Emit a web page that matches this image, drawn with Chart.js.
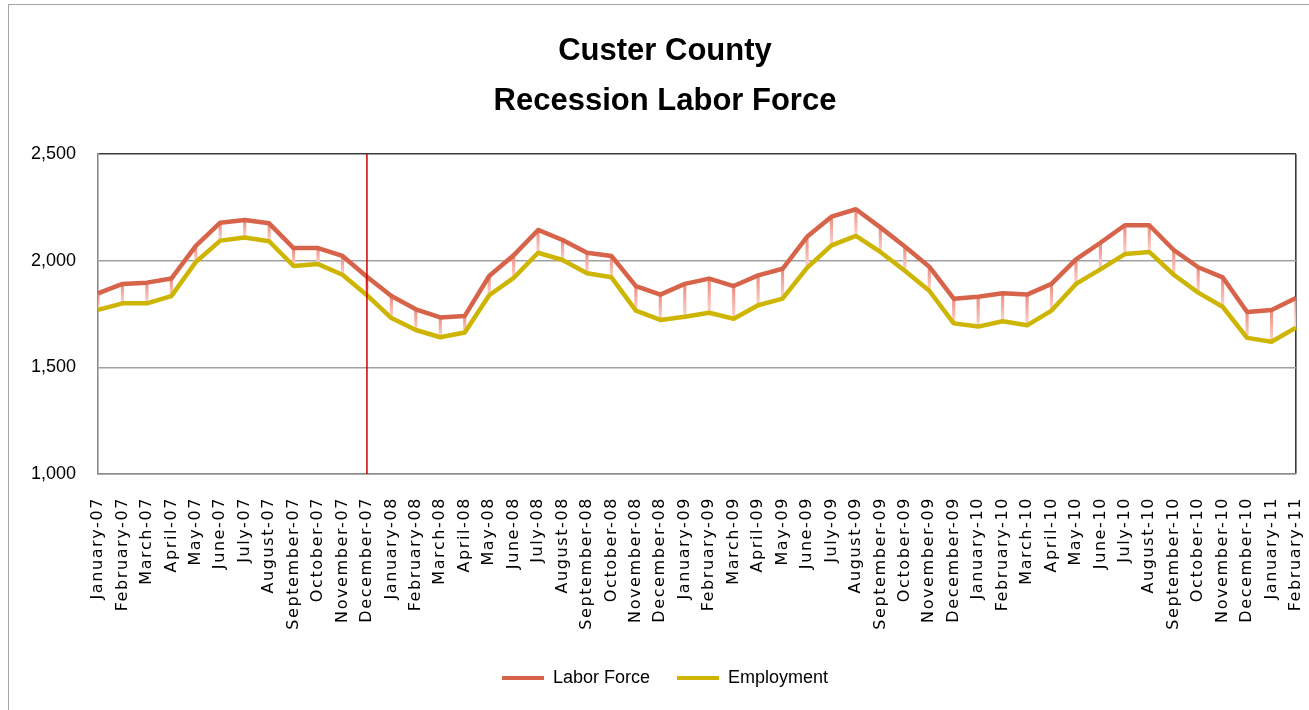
<!DOCTYPE html>
<html>
<head>
<meta charset="utf-8">
<script src="https://cdn.jsdelivr.net/npm/chart.js@4.4.1/dist/chart.umd.min.js"></script>
<style>
html,body{margin:0;padding:0;background:#fff;overflow:hidden;}
#frame{position:absolute;left:8px;top:4px;width:1400px;height:800px;border:1.5px solid #a6a6a6;}
#wrap{position:absolute;left:0;top:0;width:1309px;height:710px;}
</style>
</head>
<body>
<div id="frame"></div>
<div id="wrap"><canvas id="c" width="1309" height="710"></canvas></div>
<script>
const titleLines = ['Custer County', 'Recession Labor Force'];

const months = [
  'January-07','February-07','March-07','April-07','May-07','June-07','July-07','August-07','September-07','October-07','November-07','December-07',
  'January-08','February-08','March-08','April-08','May-08','June-08','July-08','August-08','September-08','October-08','November-08','December-08',
  'January-09','February-09','March-09','April-09','May-09','June-09','July-09','August-09','September-09','October-09','November-09','December-09',
  'January-10','February-10','March-10','April-10','May-10','June-10','July-10','August-10','September-10','October-10','November-10','December-10',
  'January-11','February-11'
];

const laborForce = [
  1847, 1891, 1897, 1916, 2069, 2178, 2191, 2175, 2059, 2059, 2022, 1925,
  1834, 1772, 1734, 1741, 1928, 2025, 2144, 2097, 2037, 2022, 1881, 1841,
  1891, 1916, 1881, 1931, 1962, 2112, 2206, 2241, 2156, 2066, 1972, 1822,
  1831, 1847, 1841, 1891, 2006, 2084, 2166, 2166, 2050, 1969, 1922, 1759,
  1769, 1825
];

const employment = [
  1769, 1800, 1800, 1834, 1994, 2094, 2109, 2091, 1975, 1984, 1934, 1838,
  1731, 1675, 1641, 1663, 1838, 1919, 2037, 2003, 1941, 1922, 1766, 1722,
  1737, 1756, 1728, 1791, 1822, 1966, 2072, 2116, 2041, 1953, 1859, 1706,
  1691, 1716, 1697, 1766, 1891, 1959, 2031, 2041, 1934, 1850, 1784, 1638,
  1620, 1686
];

const yTicks = [1000, 1500, 2000, 2500];
const recessionStart = 'December-07';

const lfColor = '#D6634A';
const empColor = '#CDB502';

const rangeData = months.map((m, i) => [employment[i], laborForce[i]]);

function hiLoGradient(context) {
  const chart = context.chart;
  const raw = context.raw;
  if (!chart.chartArea || !raw || !chart.scales.y) return '#F4B4A8';
  const ys = chart.scales.y;
  const top = ys.getPixelForValue(raw[1]);
  const bot = ys.getPixelForValue(raw[0]);
  const g = chart.ctx.createLinearGradient(0, top, 0, bot);
  g.addColorStop(0, '#EE8A7B');
  g.addColorStop(1, '#FBD6D0');
  return g;
}

const xLabelSpacing = {
  id: 'xLabelSpacing',
  afterLayout(chart) {
    // widen the y-axis label clip box so the tick labels are not cut on the left
    if (chart.scales.y) chart.scales.y.left = 0;
  },
  afterDatasetsDraw(chart) { chart.ctx.letterSpacing = '1.6px'; },
  afterDraw(chart) { chart.ctx.letterSpacing = '0px'; }
};

new Chart(document.getElementById('c'), {
  type: 'line',
  data: {
    labels: months,
    datasets: [
      {
        label: 'Recession start',
        data: [{x: recessionStart, y: yTicks[0]}, {x: recessionStart, y: yTicks[yTicks.length - 1]}],
        borderColor: '#CC0000',
        borderWidth: 1.5,
        pointRadius: 0,
        order: 0
      },
      {
        label: 'Labor Force',
        data: laborForce,
        borderColor: lfColor,
        backgroundColor: lfColor,
        borderWidth: 4.5,
        borderJoinStyle: 'round',
        pointRadius: 0,
        tension: 0,
        order: 1
      },
      {
        label: 'Employment',
        data: employment,
        borderColor: empColor,
        backgroundColor: empColor,
        borderWidth: 4.5,
        borderJoinStyle: 'round',
        pointRadius: 0,
        tension: 0,
        order: 2
      },
      {
        type: 'bar',
        label: 'High-Low',
        data: rangeData,
        backgroundColor: hiLoGradient,
        barThickness: 2.5,
        order: 3
      }
    ]
  },
  options: {
    responsive: false,
    animation: false,
    events: [],
    layout: { padding: { left: 34, right: 13, top: 0, bottom: 13 } },
    plugins: {
      title: {
        display: true,
        text: titleLines,
        color: '#000',
        font: { family: "'Liberation Sans', Arial, sans-serif", size: 31, weight: 'bold', lineHeight: 50 / 31 },
        padding: { top: 26.7, bottom: 27.3 }
      },
      legend: {
        position: 'bottom',
        labels: {
          color: '#000',
          font: { family: "'Liberation Sans', Arial, sans-serif", size: 18 },
          boxWidth: 42,
          boxHeight: 4,
          padding: 27,
          filter: item => item.text === 'Labor Force' || item.text === 'Employment',
          generateLabels: chart => Chart.defaults.plugins.legend.labels.generateLabels(chart)
            .map(l => Object.assign(l, { lineWidth: 0, fillStyle: l.strokeStyle }))
        }
      },
      tooltip: { enabled: false }
    },
    scales: {
      x: {
        offset: false,
        grid: {
          offset: false,
          drawTicks: false,
          color: c => c.index === months.length - 1 ? '#3a3a3a' : 'rgba(0,0,0,0)',
          lineWidth: 1.6
        },
        border: { color: '#8c8c8c', width: 1.6 },
        ticks: {
          autoSkip: false,
          maxRotation: 90,
          minRotation: 90,
          padding: 23,
          color: '#000',
          font: { family: "'DejaVu Sans', sans-serif", size: 16 },
          z: 1
        },
        afterFit: s => { s.height = 168; s.paddingLeft = 0; s.paddingRight = 0; }
      },
      y: {
        min: yTicks[0],
        max: yTicks[yTicks.length - 1],
        grid: {
          drawTicks: false,
          color: c => c.tick.value === yTicks[yTicks.length - 1] ? '#3a3a3a' : '#a0a0a0',
          lineWidth: 1.6
        },
        border: { color: '#8c8c8c', width: 1.6 },
        ticks: {
          stepSize: 500,
          padding: 22,
          color: '#000',
          font: { family: "'Liberation Sans', Arial, sans-serif", size: 18 },
          callback: v => v.toLocaleString('en-US')
        },
        afterFit: s => { s.width = 64; }
      }
    }
  },
  plugins: [xLabelSpacing]
});
</script>
</body>
</html>
